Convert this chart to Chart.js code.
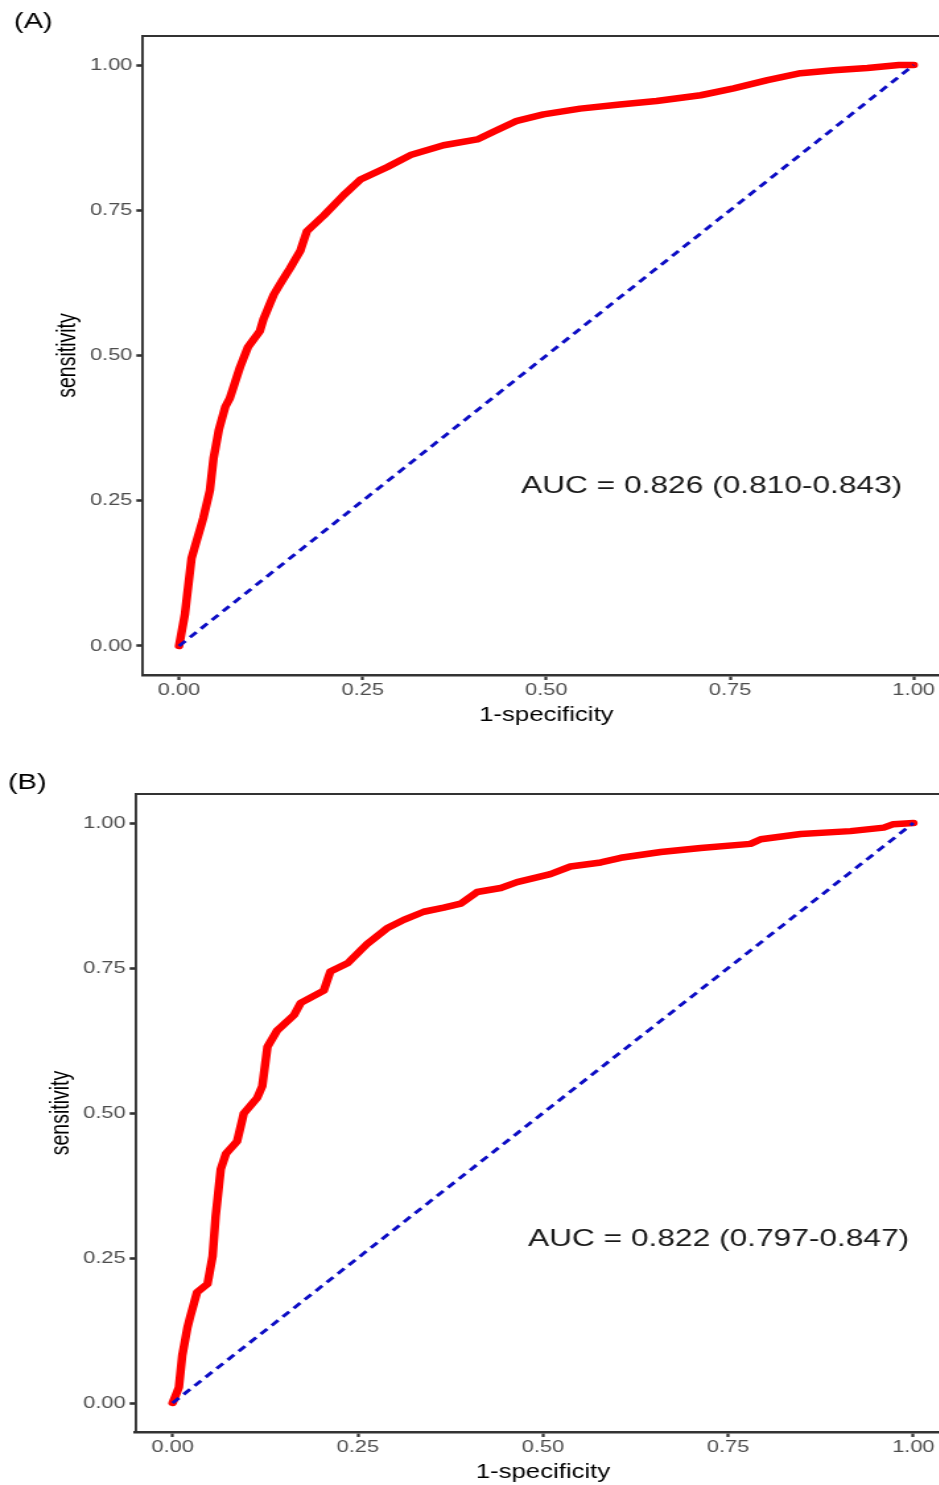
<!DOCTYPE html>
<html>
<head>
<meta charset="utf-8">
<script src="https://cdn.jsdelivr.net/npm/chart.js@4.4.1/dist/chart.umd.min.js"></script>
<style>
    html, body { margin: 0; padding: 0; background: #fff; overflow: hidden; width: 939px; height: 1485px; }
    .panel { position: absolute; left: 0; transform-origin: 0 0; transform: scaleX(1.32); }
</style>
</head>
<body>
<canvas id="rocA" class="panel" width="720" height="727" style="top:0px"></canvas>
<canvas id="rocB" class="panel" width="720" height="744" style="top:740px"></canvas>
<script>
    'use strict';

    var FONT = '"Liberation Sans", Arial, sans-serif';

    /* ---- data ---- */
    var xTicks = [0, 0.25, 0.5, 0.75, 1];
    var yTicks = [0, 0.25, 0.5, 0.75, 1];

    var diagX = [0, 1];
    var diagY = [0, 1];

    // (A)
    var fprA = [0, 0.008, 0.017, 0.033, 0.042, 0.047, 0.054, 0.063, 0.069, 0.083, 0.094, 0.11, 0.115, 0.129,
        0.14, 0.151, 0.165, 0.174, 0.197, 0.224, 0.247, 0.283, 0.315, 0.36, 0.406, 0.428, 0.46, 0.496, 0.546,
        0.6, 0.65, 0.71, 0.755, 0.801, 0.846, 0.891, 0.937, 0.98, 1];
    var tprA = [0, 0.055, 0.151, 0.22, 0.268, 0.323, 0.371, 0.412, 0.426, 0.48, 0.515, 0.542, 0.563, 0.605,
        0.628, 0.65, 0.68, 0.714, 0.741, 0.776, 0.803, 0.824, 0.845, 0.862, 0.872, 0.885, 0.904, 0.915, 0.925,
        0.932, 0.938, 0.948, 0.96, 0.974, 0.986, 0.991, 0.995, 1, 1];
    var aucA = 'AUC = 0.826 (0.810-0.843)';

    // (B)
    var fprB = [0, 0.0085, 0.013, 0.02, 0.024, 0.033, 0.047, 0.054, 0.058, 0.065, 0.072, 0.087, 0.096, 0.114,
        0.121, 0.128, 0.141, 0.164, 0.173, 0.204, 0.213, 0.236, 0.263, 0.29, 0.312, 0.339, 0.366, 0.389,
        0.411, 0.443, 0.465, 0.51, 0.537, 0.578, 0.605, 0.659, 0.713, 0.78, 0.794, 0.848, 0.915, 0.96, 0.973, 1];
    var tprB = [0, 0.027, 0.082, 0.13, 0.15, 0.191, 0.205, 0.253, 0.321, 0.403, 0.43, 0.451, 0.499, 0.526,
        0.546, 0.614, 0.642, 0.669, 0.69, 0.711, 0.744, 0.758, 0.792, 0.819, 0.833, 0.847, 0.854, 0.861,
        0.881, 0.888, 0.898, 0.912, 0.925, 0.932, 0.94, 0.95, 0.957, 0.964, 0.972, 0.981, 0.986, 0.992, 0.998, 1];
    var aucB = 'AUC = 0.822 (0.797-0.847)';

    function toPts(xs, ys) {
        return xs.map(function (x, i) { return { x: x, y: ys[i] }; });
    }

    // panel frame (top edge), tag and AUC label
    var framePlugin = {
        id: 'frame',
        afterDraw: function (chart, args, o) {
            var ctx = chart.ctx, a = chart.chartArea;
            ctx.save();
            ctx.strokeStyle = '#333';
            ctx.lineWidth = 1.8;
            ctx.beginPath();
            ctx.moveTo(a.left, a.top);
            ctx.lineTo(a.right, a.top);
            ctx.lineTo(a.right, a.bottom);
            ctx.stroke();

            ctx.fillStyle = '#000';
            ctx.font = '22px ' + FONT;
            ctx.textAlign = 'left';
            ctx.textBaseline = 'middle';
            ctx.fillText(o.tag, o.tagX, o.tagY);

            ctx.fillStyle = '#1a1a1a';
            ctx.font = '24px ' + FONT;
            ctx.textAlign = 'center';
            ctx.fillText(o.auc, chart.scales.x.getPixelForValue(o.aucX), chart.scales.y.getPixelForValue(o.aucY));
            ctx.restore();
        }
    };

    function makeRoc(id, fpr, tpr, opts) {
        return new Chart(document.getElementById(id), {
            type: 'scatter',
            data: {
                datasets: [
                    { data: toPts(diagX, diagY), showLine: true, borderColor: '#0c0cc4', borderWidth: 2.9,
                      borderDash: [7, 5], pointRadius: 0, order: 0 },
                    { data: toPts(fpr, tpr), showLine: true, borderColor: '#ff0000', borderWidth: 6.5,
                      pointRadius: 0, borderJoinStyle: 'round', borderCapStyle: 'round', order: 1 }
                ]
            },
            plugins: [framePlugin],
            options: {
                responsive: false,
                animation: false,
                layout: { padding: { left: opts.padLeft, top: opts.padTop, right: 0, bottom: 0 } },
                plugins: {
                    legend: { display: false },
                    tooltip: { enabled: false },
                    frame: { tag: opts.tag, tagX: opts.tagX, tagY: opts.tagY, auc: opts.auc, aucX: opts.aucX, aucY: opts.aucY }
                },
                scales: {
                    x: {
                        type: 'linear', position: 'bottom', min: -0.05, max: 1.05,
                        afterBuildTicks: function (s) { s.ticks = xTicks.map(function (v) { return { value: v }; }); },
                        afterFit: function (s) { s.height = 52; },
                        grid: { drawOnChartArea: false, drawTicks: true, tickLength: 5, tickWidth: 2.2, tickColor: '#333' },
                        border: { display: true, color: '#333', width: 2.6 },
                        ticks: { color: '#4d4d4d', font: { family: FONT, size: 16.5 }, padding: 1, maxRotation: 0, autoSkip: false,
                                 callback: function (v) { return v.toFixed(2); } },
                        title: { display: true, text: '1-specificity', color: '#000', font: { family: FONT, size: 19.5 }, padding: 0 }
                    },
                    y: {
                        type: 'linear', position: 'left', min: -0.05, max: 1.05,
                        afterBuildTicks: function (s) { s.ticks = yTicks.map(function (v) { return { value: v }; }); },
                        afterFit: function (s) { s.width = opts.yWidth; },
                        grid: { drawOnChartArea: false, drawTicks: true, tickLength: 4.5, tickWidth: 2.6, tickColor: '#333' },
                        border: { display: true, color: '#333', width: 1.9 },
                        ticks: { color: '#4d4d4d', font: { family: FONT, size: 16.5 }, padding: 3, autoSkip: false,
                                 callback: function (v) { return v.toFixed(2); } },
                        title: { display: true, text: 'sensitivity', color: '#000', font: { family: FONT, size: 19.5 }, padding: 0 }
                    }
                }
            }
        });
    }

    makeRoc('rocA', fprA, tprA, {
        padLeft: 40, padTop: 36, yWidth: 67.8,
        tag: '(A)', tagX: 10.6, tagY: 22,
        auc: aucA, aucX: 0.725, aucY: 0.274
    });

    makeRoc('rocB', fprB, tprB, {
        padLeft: 35.3, padTop: 54, yWidth: 67.4,
        tag: '(B)', tagX: 6, tagY: 43,
        auc: aucB, aucX: 0.737, aucY: 0.282
    });
</script>
</body>
</html>
